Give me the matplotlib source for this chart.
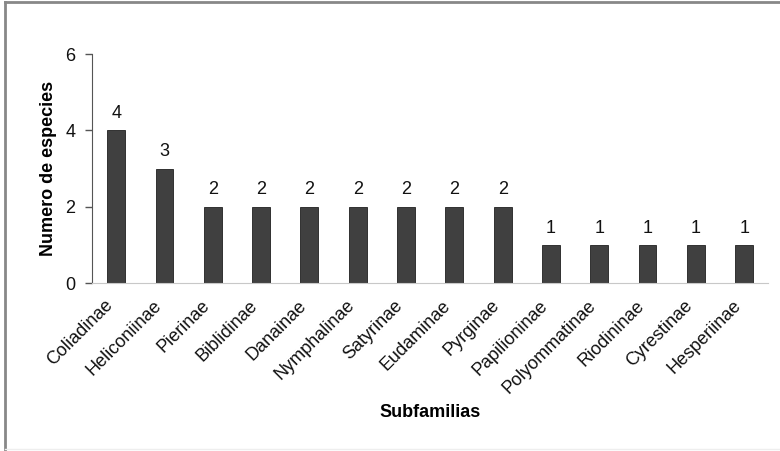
import matplotlib
matplotlib.use("Agg")
import matplotlib.pyplot as plt
from matplotlib.lines import Line2D

plt.rcParams['font.family'] = ['Liberation Sans', 'DejaVu Sans']

categories = ["Coliadinae", "Heliconiinae", "Pierinae", "Biblidinae", "Danainae",
              "Nymphalinae", "Satyrinae", "Eudaminae", "Pyrginae", "Papilioninae",
              "Polyommatinae", "Riodininae", "Cyrestinae", "Hesperiinae"]
values = [4, 3, 2, 2, 2, 2, 2, 2, 2, 1, 1, 1, 1, 1]
yticks = [0, 2, 4, 6]

fig = plt.figure(figsize=(7.8, 4.51), dpi=100)
ax = fig.add_axes([0.118, 0.3725, 0.867, 0.5075])

x = list(range(len(categories)))
bars = ax.bar(x, values, width=0.37, color='#404040', edgecolor='#202020', linewidth=0.6)
for xi, v in zip(x, values):
    ax.annotate(str(v), (xi, v), xytext=(0, 6), textcoords='offset points',
                ha='center', va='bottom', fontsize=13, color='#111111')

ax.set_xlim(-0.5, len(categories) - 0.5)
ax.set_ylim(0, 6)
ax.set_yticks(yticks)
ax.set_xticks(x)
ax.set_xticklabels(categories, rotation=45, ha='right', fontsize=13, color='#111111')
ax.tick_params(axis='x', length=0, pad=10)
ax.tick_params(axis='y', length=5, width=1, color='#555555', labelsize=13,
               labelcolor='#111111', pad=7)

for s in ['top', 'right']:
    ax.spines[s].set_visible(False)
ax.spines['left'].set_color('#555555')
ax.spines['bottom'].set_color('#c8c8c8')

ax.set_ylabel("Numero de especies", fontsize=13, fontweight='bold', labelpad=6)
ax.set_xlabel("Subfamilias", fontsize=13, fontweight='bold', labelpad=5)

# figure frame (top and left)
fig.add_artist(Line2D([0.006, 0.006], [0, 0.995], transform=fig.transFigure, color='#888888', lw=2))
fig.add_artist(Line2D([0.006, 1], [0.995, 0.995], transform=fig.transFigure, color='#888888', lw=2))
fig.add_artist(Line2D([0.006, 1], [0.004, 0.004], transform=fig.transFigure, color='#eeeeee', lw=1))

fig.savefig("out.png", dpi=100)
